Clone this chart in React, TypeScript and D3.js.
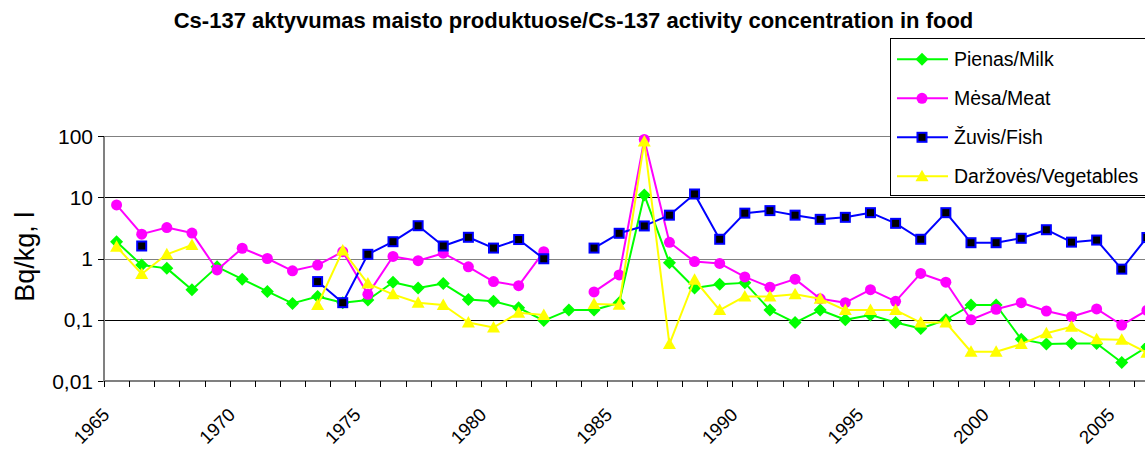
import React, { useEffect, useRef } from "react";
import * as d3 from "d3";

// categories (years) and series values, Bq/kg (null = no measurement)
const years = [
  1965, 1966, 1967, 1968, 1969, 1970, 1971, 1972, 1973, 1974, 1975, 1976, 1977, 1978,
  1979, 1980, 1981, 1982, 1983, 1984, 1985, 1986, 1987, 1988, 1989, 1990, 1991, 1992,
  1993, 1994, 1995, 1996, 1997, 1998, 1999, 2000, 2001, 2002, 2003, 2004, 2005, 2006,
];

const milk = [
  1.88, 0.78, 0.69, 0.31, 0.73, 0.46, 0.29, 0.185, 0.24, 0.19, 0.21, 0.41, 0.33, 0.39,
  0.215, 0.2, 0.157, 0.097, 0.144, 0.144, 0.19, 10.9, 0.85, 0.33, 0.38, 0.4, 0.144, 0.09,
  0.144, 0.1, 0.12, 0.09, 0.072, 0.1, 0.174, 0.174, 0.048, 0.04, 0.041, 0.041, 0.02, 0.036,
];

const meat = [
  7.5, 2.5, 3.2, 2.6, 0.65, 1.47, 1.0, 0.63, 0.78, 1.29, 0.26, 1.08, 0.92, 1.22,
  0.73, 0.42, 0.36, 1.29, null, 0.285, 0.54, 88, 1.84, 0.89, 0.83, 0.5, 0.34, 0.46,
  0.22, 0.19, 0.31, 0.2, 0.57, 0.41, 0.1, 0.148, 0.19, 0.139, 0.112, 0.15, 0.082, 0.142,
];

const fish = [
  null, 1.6, null, null, null, null, null, null, 0.42, 0.19, 1.17, 1.88, 3.43, 1.6,
  2.22, 1.48, 2.04, 0.99, null, 1.48, 2.58, 3.4, 5.1, 11.3, 2.06, 5.5, 6.05, 5.1,
  4.36, 4.7, 5.6, 3.75, 2.06, 5.6, 1.81, 1.81, 2.14, 2.95, 1.85, 2.0, 0.67, 2.2,
];

const vegetables = [
  1.56, 0.56, 1.17, 1.66, null, null, null, null, 0.174, 1.35, 0.39, 0.26, 0.19, 0.174,
  0.09, 0.075, 0.13, 0.12, null, 0.18, 0.175, 81, 0.04, 0.45, 0.144, 0.24, 0.24, 0.26,
  0.22, 0.144, 0.144, 0.144, 0.09, 0.09, 0.03, 0.03, 0.04, 0.06, 0.077, 0.048, 0.047, 0.029,
];

const yTicks = [0.01, 0.1, 1, 10, 100];
const yTickLabels = ["0,01", "0,1", "1", "10", "100"];
const xLabelYears = [1965, 1970, 1975, 1980, 1985, 1990, 1995, 2000, 2005];

const title = "Cs-137 aktyvumas maisto produktuose/Cs-137 activity concentration in food";
const yTitle = "Bq/kg, l";

const series = [
  { name: "Pienas/Milk", values: milk, line: "#00ff00", marker: "diamond" },
  { name: "Mėsa/Meat", values: meat, line: "#ff00ff", marker: "circle" },
  { name: "Žuvis/Fish", values: fish, line: "#0000ff", marker: "square" },
  { name: "Daržovės/Vegetables", values: vegetables, line: "#ffff00", marker: "triangle" },
];

const FONT = "Arial, 'Liberation Sans', sans-serif";

const drawMarker = (g, kind, color, cx, cy) => {
  if (kind === "diamond") {
    g.append("path")
      .attr("d", `M${cx},${cy - 6.5}L${cx + 6.5},${cy}L${cx},${cy + 6.5}L${cx - 6.5},${cy}Z`)
      .attr("fill", color);
  } else if (kind === "circle") {
    g.append("circle").attr("cx", cx).attr("cy", cy).attr("r", 5.5).attr("fill", color);
  } else if (kind === "square") {
    g.append("rect")
      .attr("x", cx - 4.5)
      .attr("y", cy - 4.5)
      .attr("width", 9)
      .attr("height", 9)
      .attr("fill", "#000")
      .attr("stroke", color)
      .attr("stroke-width", 2);
  } else {
    g.append("path")
      .attr("d", `M${cx},${cy - 6.5}L${cx + 6.5},${cy + 5}L${cx - 6.5},${cy + 5}Z`)
      .attr("fill", color);
  }
};

const App = () => {
  const svgRef = useRef(null);

  useEffect(() => {
    const svg = d3.select(svgRef.current);
    svg.selectAll("*").remove();

    const left = 104;
    const top = 136;
    const bottom = 381;
    const band = 25.13;

    const x = d3
      .scaleBand()
      .domain(years)
      .range([left, left + band * years.length])
      .padding(0);
    const cx = (yr) => x(yr) + x.bandwidth() / 2;

    const y = d3.scaleLog().domain([0.01, 100]).range([bottom, top]);
    const crisp = (v) => Math.round(v) + 0.5;
    const right = left + band * years.length;

    // title
    svg
      .append("text")
      .attr("x", 573.5)
      .attr("y", 28)
      .attr("text-anchor", "middle")
      .attr("font-family", FONT)
      .attr("font-weight", "bold")
      .attr("font-size", 22)
      .text(title);

    // gridlines
    const grid = svg.append("g");
    yTicks.slice(1).forEach((t) => {
      grid
        .append("line")
        .attr("x1", left)
        .attr("x2", right)
        .attr("y1", crisp(y(t)))
        .attr("y2", crisp(y(t)))
        .attr("stroke", t === 1 || t === 100 ? "#808080" : "#000")
        .attr("stroke-width", 1);
    });

    // y axis
    const yAxis = svg.append("g");
    yAxis
      .append("line")
      .attr("x1", left)
      .attr("x2", left)
      .attr("y1", top)
      .attr("y2", bottom + 1)
      .attr("stroke", "#808080")
      .attr("stroke-width", 2);
    yTicks.forEach((t, i) => {
      yAxis
        .append("line")
        .attr("x1", left - 6)
        .attr("x2", left)
        .attr("y1", crisp(y(t)))
        .attr("y2", crisp(y(t)))
        .attr("stroke", "#000");
      yAxis
        .append("text")
        .attr("x", left - 11)
        .attr("y", y(t) + 7.5)
        .attr("text-anchor", "end")
        .attr("font-family", FONT)
        .attr("font-size", 21)
        .text(yTickLabels[i]);
    });

    svg
      .append("text")
      .attr("transform", `translate(33.5,256.7) rotate(-90)`)
      .attr("text-anchor", "middle")
      .attr("font-family", FONT)
      .attr("font-size", 27)
      .text(yTitle);

    // x axis
    const xAxis = svg.append("g");
    xAxis
      .append("line")
      .attr("x1", left - 1)
      .attr("x2", right)
      .attr("y1", bottom)
      .attr("y2", bottom)
      .attr("stroke", "#808080")
      .attr("stroke-width", 2);
    years.forEach((yr) => {
      const bx = Math.round(x(yr)) + 0.5;
      xAxis
        .append("line")
        .attr("x1", bx)
        .attr("x2", bx)
        .attr("y1", bottom)
        .attr("y2", bottom + 6)
        .attr("stroke", "#000");
    });
    xLabelYears.forEach((yr) => {
      xAxis
        .append("text")
        .attr("transform", `translate(${cx(yr) - 6},${bottom + 35}) rotate(-45)`)
        .attr("text-anchor", "end")
        .attr("font-family", FONT)
        .attr("font-size", 18.5)
        .text(yr);
    });

    // series: line then markers, in legend order
    series.forEach((s) => {
      const pts = years.map((yr, i) => ({ yr, v: s.values[i] }));
      const line = d3
        .line()
        .defined((d) => d.v != null)
        .x((d) => cx(d.yr))
        .y((d) => y(d.v));
      const g = svg.append("g");
      g.append("path")
        .datum(pts)
        .attr("fill", "none")
        .attr("stroke", s.line)
        .attr("stroke-width", 2)
        .attr("stroke-linejoin", "round")
        .attr("d", line);
      pts
        .filter((d) => d.v != null)
        .forEach((d) => drawMarker(g, s.marker, s.line, cx(d.yr), y(d.v)));
    });

    // legend
    const lg = svg.append("g");
    lg.append("rect")
      .attr("x", 890.5)
      .attr("y", 38.5)
      .attr("width", 300)
      .attr("height", 157)
      .attr("fill", "#fff")
      .attr("stroke", "#000");
    series.forEach((s, i) => {
      const ly = 59.3 + i * 39;
      lg.append("line")
        .attr("x1", 897)
        .attr("x2", 948)
        .attr("y1", ly)
        .attr("y2", ly)
        .attr("stroke", s.line)
        .attr("stroke-width", 2);
      drawMarker(lg, s.marker, s.line, 922, ly);
      lg.append("text")
        .attr("x", 954)
        .attr("y", ly + 7)
        .attr("font-family", FONT)
        .attr("font-size", 19.5)
        .text(s.name);
    });
  }, []);

  return (
    <svg
      ref={svgRef}
      width={1145}
      height={449}
      style={{ position: "absolute", left: 0, top: 0, background: "#fff" }}
    />
  );
};

export default App;
